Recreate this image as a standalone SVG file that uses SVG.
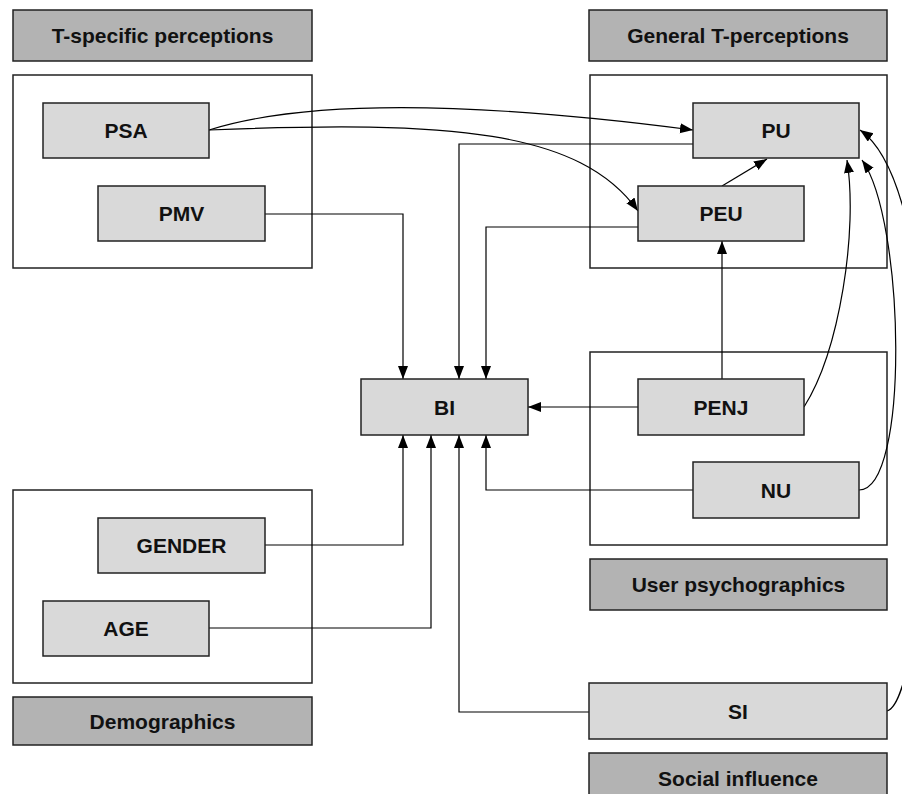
<svg xmlns="http://www.w3.org/2000/svg" width="902" height="794" viewBox="0 0 902 794">
<style>
.bg{fill:#fff}
.grp{fill:#fff;stroke:#222;stroke-width:1.5}
.node{fill:#d9d9d9;stroke:#222;stroke-width:1.5}
.hdr{fill:#b3b3b3;stroke:#222;stroke-width:1.5}
.t{font-family:"Liberation Sans",Arial,Helvetica,sans-serif;font-weight:bold;font-size:21px;fill:#111;text-anchor:middle}
.c{fill:none;stroke:#000;stroke-width:1.2}
</style>
<defs>
<marker id="ah" markerUnits="userSpaceOnUse" markerWidth="14" markerHeight="11" refX="13" refY="5" orient="auto">
<path d="M0,0 L13,5 L0,10 z" fill="#000"/>
</marker>
</defs>
<rect class="bg" x="0" y="0" width="902" height="794"/>

<!-- group containers -->
<g id="grp_tspec"><rect class="grp" x="13" y="75" width="299" height="193"/></g>
<g id="grp_gen"><rect class="grp" x="590" y="75" width="297" height="193"/></g>
<g id="grp_user"><rect class="grp" x="590" y="352" width="297" height="193"/></g>
<g id="grp_demo"><rect class="grp" x="13" y="490" width="299" height="193"/></g>

<!-- connectors -->
<g id="connectors">
<path class="c" d="M209,130 C330,92 540,110 693,130" marker-end="url(#ah)"/>
<path class="c" d="M209,130 C450,120 580,130 638,211" marker-end="url(#ah)"/>
<path class="c" d="M693,144 H459 V379" marker-end="url(#ah)"/>
<path class="c" d="M265,214 H403 V379" marker-end="url(#ah)"/>
<path class="c" d="M638,227 H486 V379" marker-end="url(#ah)"/>
<path class="c" d="M722,186 L767,159" marker-end="url(#ah)"/>
<path class="c" d="M722,379 V241" marker-end="url(#ah)"/>
<path class="c" d="M638,407 H528" marker-end="url(#ah)"/>
<path class="c" d="M804,407 C840,350 858,230 847,160" marker-end="url(#ah)"/>
<path class="c" d="M859,490 C910,490 905,220 862,160" marker-end="url(#ah)"/>
<path class="c" d="M887,711 C930,700 960,200 860,130" marker-end="url(#ah)"/>
<path class="c" d="M693,490 H486 V435" marker-end="url(#ah)"/>
<path class="c" d="M265,545 H403 V435" marker-end="url(#ah)"/>
<path class="c" d="M209,628 H431 V435" marker-end="url(#ah)"/>
<path class="c" d="M589,712 H459 V435" marker-end="url(#ah)"/>
</g>

<!-- headers -->
<g id="hdr_tspec"><rect class="hdr" x="13" y="10" width="299" height="51"/><text class="t" x="162.5" y="43">T-specific perceptions</text></g>
<g id="hdr_gen"><rect class="hdr" x="589" y="10" width="298" height="51"/><text class="t" x="738" y="43">General T-perceptions</text></g>
<g id="hdr_user"><rect class="hdr" x="590" y="559" width="297" height="51"/><text class="t" x="738.5" y="592">User psychographics</text></g>
<g id="hdr_demo"><rect class="hdr" x="13" y="697" width="299" height="48"/><text class="t" x="162.5" y="729">Demographics</text></g>
<g id="hdr_si"><rect class="hdr" x="589" y="753" width="298" height="51"/><text class="t" x="738" y="786">Social influence</text></g>

<!-- nodes -->
<g id="PSA"><rect class="node" x="43" y="103" width="166" height="55"/><text class="t" x="126" y="138">PSA</text></g>
<g id="PMV"><rect class="node" x="98" y="186" width="167" height="55"/><text class="t" x="181.5" y="221">PMV</text></g>
<g id="PU"><rect class="node" x="693" y="103" width="166" height="55"/><text class="t" x="776" y="138">PU</text></g>
<g id="PEU"><rect class="node" x="638" y="186" width="166" height="55"/><text class="t" x="721" y="221">PEU</text></g>
<g id="BI"><rect class="node" x="361" y="379" width="167" height="56"/><text class="t" x="444.5" y="414.5">BI</text></g>
<g id="PENJ"><rect class="node" x="638" y="379" width="166" height="56"/><text class="t" x="721" y="414.5">PENJ</text></g>
<g id="NU"><rect class="node" x="693" y="462" width="166" height="56"/><text class="t" x="776" y="497.5">NU</text></g>
<g id="GENDER"><rect class="node" x="98" y="518" width="167" height="55"/><text class="t" x="181.5" y="553">GENDER</text></g>
<g id="AGE"><rect class="node" x="43" y="601" width="166" height="55"/><text class="t" x="126" y="636">AGE</text></g>
<g id="SI"><rect class="node" x="589" y="683" width="298" height="56"/><text class="t" x="738" y="718.5">SI</text></g>
</svg>
